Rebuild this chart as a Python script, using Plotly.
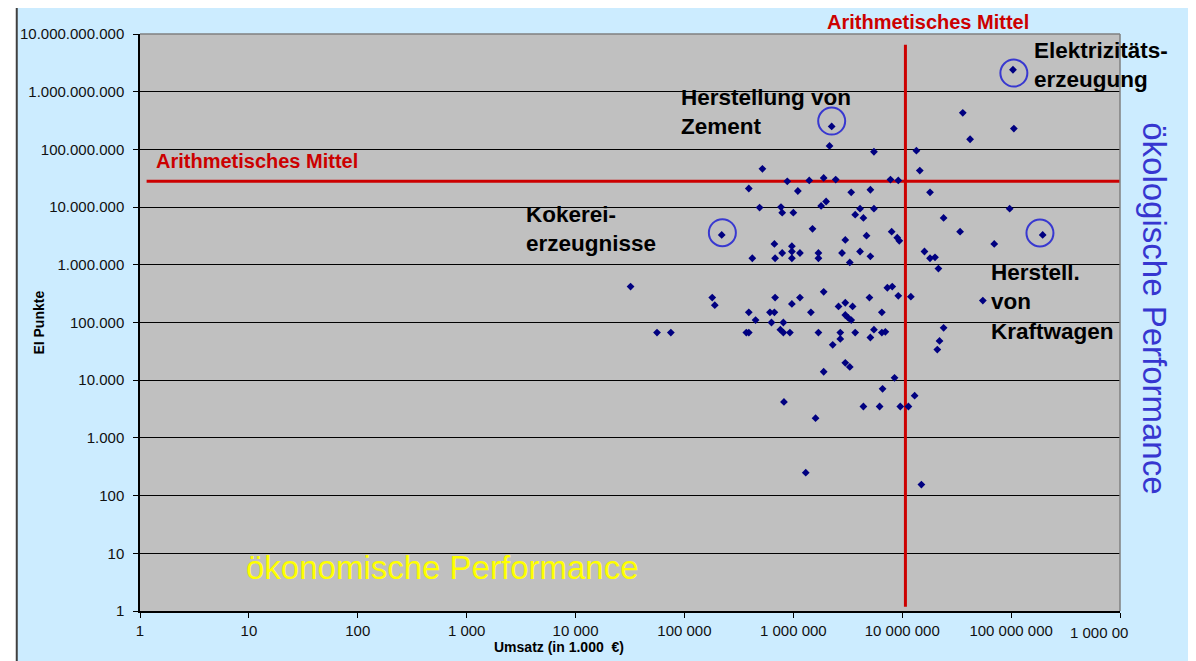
import plotly.graph_objects as go

# Umsatz (in 1.000 EUR) and EI points per sector
umsatz = [
    3.2e4, 5.6e4, 7.5e4, 1.8e5, 1.9e5, 2.2e5, 3.7e5, 3.9e5, 3.9e5, 3.9e5,
    4.2e5, 4.5e5, 4.9e5, 5.2e5, 6.1e5, 6.7e5, 6.3e5, 6.7e5, 6.8e5, 6.8e5,
    7.6e5, 8.1e5, 9.3e5, 7.7e5, 7.9e5, 7.9e5, 8.1e5, 8.2e5, 8.8e5, 9.7e5,
    9.7e5, 9.7e5, 9.7e5, 1.0e6, 1.1e6, 1.15e6, 1.15e6, 1.3e6, 1.4e6, 1.45e6,
    1.5e6, 1.6e6, 1.7e6, 1.7e6, 1.7e6, 1.8e6, 2.0e6, 1.9e6, 1.9e6, 1.9e6,
    2.15e6, 2.25e6, 2.3e6, 2.45e6, 2.6e6, 3.0e6, 2.7e6, 2.7e6, 2.8e6, 3.0e6,
    3.0e6, 3.2e6, 3.4e6, 3.0e6, 3.3e6, 3.3e6, 3.4e6, 3.5e6, 3.7e6, 3.7e6,
    4.1e6, 4.1e6, 4.4e6, 4.4e6, 4.7e6, 5.0e6, 5.1e6, 5.1e6, 5.1e6, 5.5e6,
    5.5e6, 5.5e6, 6.2e6, 6.5e6, 6.5e6, 7.0e6, 6.6e6, 7.3e6, 8.1e6, 7.8e6,
    9.2e6, 8.0e6, 9.0e6, 9.4e6, 8.5e6, 9.2e6, 9.6e6, 1.14e7, 1.2e7, 1.3e7,
    1.35e7, 1.45e7, 1.5e7, 1.6e7, 1.8e7, 2.0e7, 1.8e7, 2.1e7, 2.2e7, 2.15e7,
    2.4e7, 2.4e7, 3.4e7, 3.6e7, 4.2e7, 5.5e7, 7.0e7, 9.7e7, 1.06e8, 1.04e8,
    1.95e8,
]
ei_punkte = [
    4.2e5, 6.7e4, 6.7e4, 2.7e5, 2.0e5, 3.3e6, 6.7e4, 6.7e4, 2.1e7, 1.5e5,
    1.3e6, 1.1e5, 9.8e6, 4.6e7, 1.5e5, 1.5e5, 1.0e5, 2.3e6, 1.3e6, 2.7e5,
    7.5e4, 6.7e4, 6.7e4, 1.0e7, 8.0e6, 1.6e6, 1.0e5, 4.2e3, 2.8e7, 2.1e6,
    1.7e6, 1.3e6, 2.1e5, 8.0e6, 1.9e7, 1.6e6, 2.7e5, 250, 2.9e7, 1.5e5,
    4.2e6, 2.2e3, 1.3e6, 1.6e6, 6.7e4, 1.05e7, 1.25e7, 3.4e5, 3.2e7, 1.4e4,
    1.15e8, 2.5e8, 4.1e4, 3.0e7, 1.9e5, 2.2e5, 6.7e4, 5.2e4, 1.6e6, 2.7e6,
    1.35e5, 1.2e5, 1.1e5, 2.0e4, 1.7e4, 1.1e6, 1.8e7, 1.9e5, 6.7e4, 7.4e6,
    9.4e6, 1.7e6, 6.5e6, 3.5e3, 3.2e6, 2.7e5, 2.0e7, 1.4e6, 5.5e4, 7.5e4,
    9.1e7, 9.4e6, 3.5e3, 1.5e5, 6.7e4, 6.9e4, 7.1e3, 4.0e5, 4.2e5, 3.0e7,
    2.9e7, 3.75e6, 2.95e6, 2.6e6, 1.1e4, 2.9e5, 3.5e3, 3.5e3, 2.8e5, 5.4e3,
    9.5e7, 4.3e7, 155, 1.7e6, 1.3e6, 1.35e6, 1.8e7, 3.4e4, 4.8e4, 8.6e5,
    8.1e4, 6.5e6, 3.75e6, 4.3e8, 1.5e8, 2.4e5, 2.3e6, 9.4e6, 2.3e8, 2.4e9,
    3.3e6,
]

# circled sectors: Kokerei, Zement, Elektrizitaet, Kraftwagen
circle_x = [2.23e5, 2.25e6, 1.06e8, 1.84e8]
circle_y = [3.6e6, 3.1e8, 2.1e9, 3.56e6]

mittel_umsatz = 1.07e7
mittel_ei = 2.8e7

x_ticks = [1, 10, 100, 1e3, 1e4, 1e5, 1e6, 1e7, 1e8, 1e9]
x_labels = ["1", "10", "100", "1 000", "10 000", "100 000", "1 000 000",
            "10 000 000", "100 000 000", "1 000 00"]
y_ticks = [1, 10, 100, 1e3, 1e4, 1e5, 1e6, 1e7, 1e8, 1e9, 1e10]
y_labels = ["1", "10", "100", "1.000", "10.000", "100.000", "1.000.000",
            "10.000.000", "100.000.000", "1.000.000.000", "10.000.000.000"]

# page coordinates; the browser adds an 8px body margin around the figure
PAGE = 8
W, H = 1196 - PAGE, 661 - PAGE
L, R, T, B = 134, 1120, 34, 611
FONT = "Liberation Sans, Arial, sans-serif"


def px(x):
    return (x - L) / (R - L)


def py(y):
    return (B - y) / (B - T)


fig = go.Figure()

# mean lines
fig.add_trace(go.Scatter(x=[mittel_umsatz, mittel_umsatz], y=[1.19, 6.5e9], mode="lines",
                         line=dict(color="#cc0000", width=3), hoverinfo="skip"))
fig.add_trace(go.Scatter(x=[1.15, 1e9], y=[mittel_ei, mittel_ei], mode="lines",
                         line=dict(color="#cc0000", width=3), hoverinfo="skip"))

fig.add_trace(go.Scatter(x=umsatz, y=ei_punkte, mode="markers",
                         marker=dict(symbol="diamond", size=6, color="#000080")))
fig.add_trace(go.Scatter(x=circle_x, y=circle_y, mode="markers",
                         marker=dict(symbol="circle-open", size=27,
                                     line=dict(color="#3838d0", width=2), color="#3838d0")))

ann = []


def label(x, y, text, size, color="black", bold=True, xanchor="left", angle=0):
    ann.append(dict(xref="paper", yref="paper", x=px(x), y=py(y), text=f"<b>{text}</b>" if bold else text,
                    showarrow=False, xanchor=xanchor, yanchor="middle", align="left", textangle=angle,
                    font=dict(family=FONT, size=size, color=color)))


label(927, 22, "Arithmetisches Mittel", 20, "#cc0000", xanchor="center")
label(252, 161, "Arithmetisches Mittel", 20, "#cc0000", xanchor="center")
label(676, 112, "Herstellung von<br>Zement", 22.5)
label(520, 229, "Kokerei-<br>erzeugnisse", 22.5)
label(1031, 65, "Elektrizitäts-<br>erzeugung", 22.5)
label(988, 302, "Herstell.<br>von<br>Kraftwagen", 22.5)
label(438, 567, "ökonomische Performance", 33, "#ffff00", bold=False, xanchor="center")
label(1155, 308, "ökologische Performance", 33, "#3636d0", bold=False, xanchor="center", angle=90)
label(32, 323, "EI Punkte", 14, xanchor="center", angle=-90)
label(556, 647, "Umsatz (in 1.000  €)", 14, xanchor="center")
# last x tick label is cut off at the chart's right edge
ann.append(dict(xref="paper", yref="paper", x=px(1068), y=py(632), text=x_labels[-1], showarrow=False,
                xanchor="left", yanchor="middle", font=dict(family=FONT, size=15, color="#111111")))

shapes = [
    # white strips outside the chart frame
    dict(type="rect", xref="paper", yref="paper", x0=px(0), x1=px(10), y0=py(H + 20), y1=py(-5),
         fillcolor="white", line=dict(width=0), layer="below"),
    dict(type="rect", xref="paper", yref="paper", x0=px(0), x1=px(W + 20), y0=py(6), y1=py(-5),
         fillcolor="white", line=dict(width=0), layer="below"),
    # chart frame
    dict(type="line", xref="paper", yref="paper", x0=px(10), x1=px(10), y0=py(H + 20), y1=py(6),
         line=dict(color="#404040", width=2)),
    dict(type="line", xref="paper", yref="paper", x0=px(10), x1=px(W + 20), y0=py(6), y1=py(6),
         line=dict(color="#404040", width=2)),
    # grey top and right border of the plot area
    dict(type="line", xref="paper", yref="paper", x0=0, x1=1, y0=1, y1=1,
         line=dict(color="#808080", width=1.5)),
    dict(type="line", xref="paper", yref="paper", x0=1, x1=1, y0=0, y1=1,
         line=dict(color="#808080", width=1.5)),
]

fig.update_layout(
    width=W, height=H,
    margin=dict(l=L - PAGE, r=W - (R - PAGE), t=T - PAGE, b=H - (B - PAGE)),
    paper_bgcolor="#ccecff", plot_bgcolor="#c0c0c0",
    showlegend=False,
    font=dict(family=FONT, size=14, color="black"),
    annotations=ann, shapes=shapes,
)
fig.update_xaxes(type="log", range=[0, 9], tickvals=x_ticks, ticktext=x_labels[:-1] + [""],
                 showgrid=False, zeroline=False, showline=True, linecolor="black", linewidth=1.5,
                 ticks="outside", ticklen=5, tickcolor="black",
                 tickfont=dict(family=FONT, size=15, color="#111111"))
fig.update_yaxes(type="log", range=[0, 10], tickvals=y_ticks, ticktext=y_labels,
                 showgrid=True, gridcolor="black", gridwidth=1, zeroline=False,
                 showline=True, linecolor="black", linewidth=1.5,
                 ticks="outside", ticklen=5, tickcolor="black", ticklabelstandoff=6,
                 tickfont=dict(family=FONT, size=15, color="#111111"))

fig.write_html("out.html")
